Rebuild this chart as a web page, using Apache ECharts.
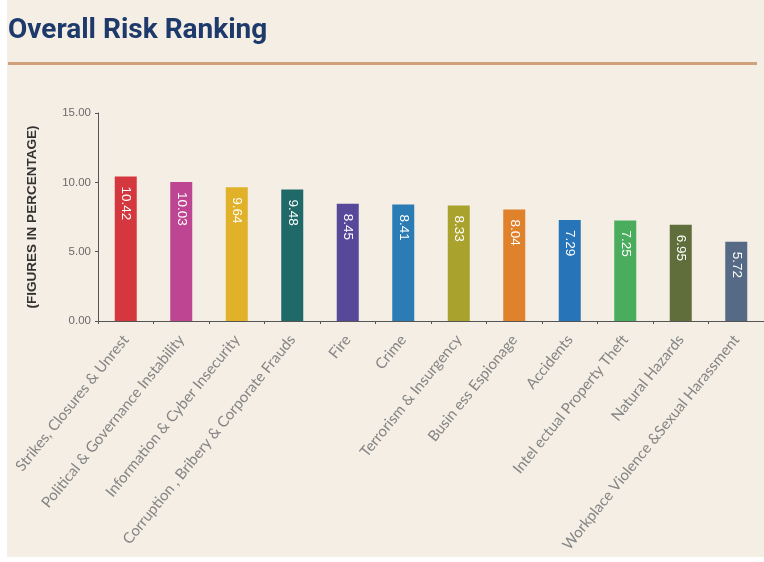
<!DOCTYPE html>
<html>
<head>
<meta charset="utf-8">
<script src="https://cdn.jsdelivr.net/npm/echarts@6/dist/echarts.min.js"></script>
<style>
html,body{margin:0;padding:0;background:#ffffff;}
#c{position:absolute;left:7px;top:0;width:757px;height:557px;background:#f4eee4;}
</style>
</head>
<body>
<div id="c"></div>
<script>
const categories = [
  "Strikes, Closures & Unrest",
  "Political & Governance Instability",
  "Information & Cyber Insecurity",
  "Corruption , Bribery & Corporate Frauds",
  "Fire",
  "Crime",
  "Terrorism & Insurgency",
  "Busin ess Espionage",
  "Accidents",
  "Intel ectual Property Theft",
  "Natural Hazards",
  "Workplace Violence &Sexual Harassment"
];
const values = [10.42, 10.03, 9.64, 9.48, 8.45, 8.41, 8.33, 8.04, 7.29, 7.25, 6.95, 5.72];
const colors = ["#d5373f", "#be4592", "#e1b12a", "#1f6a69", "#58489a", "#2b7cb4", "#a9a22c", "#e0812c", "#2874b9", "#4aad5d", "#606e3b", "#566a86"];
const yTicks = [0, 5, 10, 15];

const chart = echarts.init(document.getElementById('c'));
chart.setOption({
  animation: false,
  title: {
    text: "Overall Risk Ranking",
    left: -4, top: 12,
    textStyle: {fontFamily: "Roboto", fontWeight: "bold", fontSize: 28, color: "#1d3a6a"}
  },
  graphic: [{
    type: 'rect', shape: {x: 1, y: 62, width: 749, height: 3},
    style: {fill: '#cfa27c'}
  }],
  grid: {left: 91, right: -10, top: 113, bottom: 236},
  xAxis: {
    type: 'category', data: categories,
    axisLine: {lineStyle: {color: '#555', width: 1}},
    axisTick: {show: true, length: 3, lineStyle: {color: '#555'}},
    axisLabel: {rotate: 51, interval: 0, margin: 16, fontSize: 15, color: '#858585', fontFamily: 'Lato'}
  },
  yAxis: {
    type: 'value', min: 0, max: 15, interval: 5,
    name: "(FIGURES IN PERCENTAGE)", nameLocation: 'middle', nameGap: 59, nameRotate: 90,
    nameTextStyle: {fontWeight: 'bold', fontSize: 13.5, color: '#333', fontFamily: 'Liberation Sans'},
    axisLine: {show: true, lineStyle: {color: '#555'}},
    axisTick: {show: true, length: 3, lineStyle: {color: '#555'}},
    splitLine: {show: false},
    axisLabel: {fontSize: 11.5, color: '#6a6a6a', margin: 7, formatter: v => yTicks.includes(v) ? v.toFixed(2) : ''}
  },
  series: [{
    type: 'bar',
    data: values.map((v, i) => ({value: v, itemStyle: {color: colors[i]}})),
    barWidth: 22,
    label: {
      show: true, position: 'insideTop', distance: 10, rotate: -90,
      align: 'left', verticalAlign: 'middle',
      color: '#ffffff', fontSize: 13.5,
      formatter: p => p.value.toFixed(2)
    }
  }]
});
</script>
</body>
</html>
